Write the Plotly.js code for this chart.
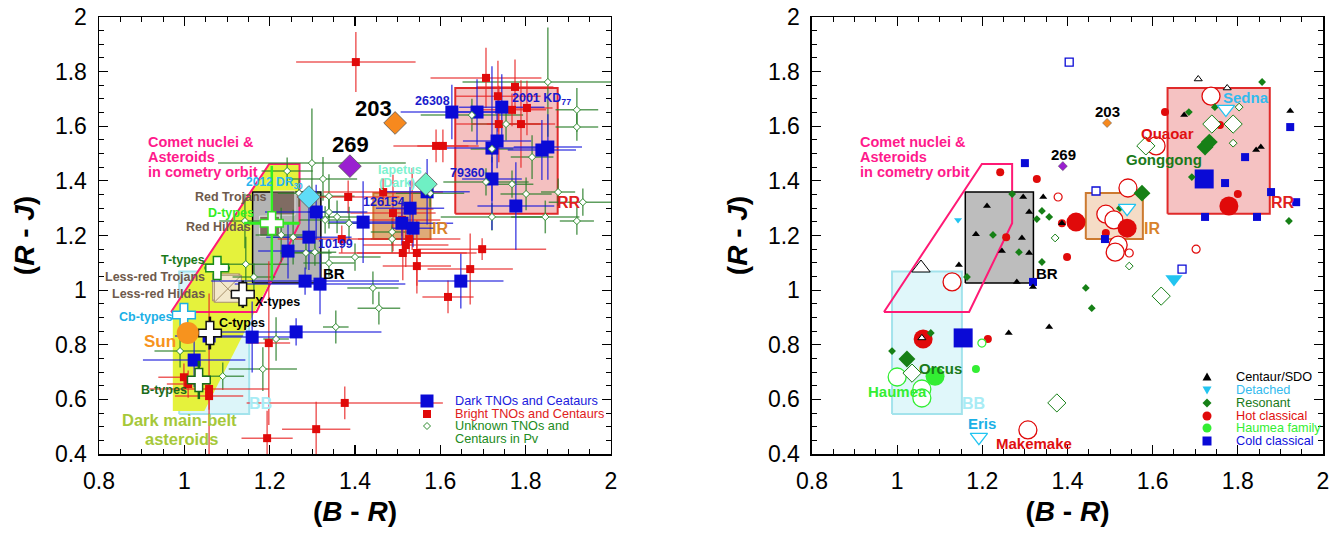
<!DOCTYPE html>
<html><head><meta charset="utf-8">
<script src="https://cdn.plot.ly/plotly-3.0.1.min.js"></script>
<style>html,body{margin:0;padding:0;background:#fff}#chart{width:1341px;height:534px}</style>
</head><body><div id="chart"></div>
<script>
// ---------------- DATA : left panel ----------------
// Dark TNOs and Centaurs (B-R, R-J, errors)
const darkX  = [1.627,1.686,1.744,1.733,1.721,1.838,1.852,1.721,1.777,1.569,1.529,1.510,1.536,1.419,1.309,1.292,1.243,1.283,1.318,1.058,1.159,1.262,1.023,1.648];
const darkY  = [1.652,1.652,1.670,1.546,1.520,1.513,1.524,1.407,1.308,1.360,1.300,1.245,1.227,1.249,1.286,1.194,1.143,1.033,1.022,0.832,0.828,0.847,0.744,1.033];
const darkEX = [0.12,0.06,0.10,0.08,0.12,0.08,0.08,0.07,0.09,0.10,0.08,0.12,0.05,0.08,0.12,0.10,0.07,0.22,0.20,0.08,0.10,0.20,0.12,0.10];
const darkEY = [0.10,0.12,0.12,0.10,0.30,0.11,0.12,0.08,0.16,0.12,0.10,0.08,0.07,0.15,0.10,0.12,0.10,0.05,0.11,0.05,0.13,0.05,0.10,0.10];
// Bright TNOs and Centaurs
const brightX  = [1.402,1.707,1.775,1.735,1.768,1.803,1.737,1.789,1.590,1.606,1.466,1.384,1.489,1.534,1.510,1.527,1.519,1.512,1.545,1.545,1.698,1.369,1.670,1.618,1.376,1.309,1.198,0.999,1.009,1.058,1.058,1.194];
const brightY  = [1.835,1.777,1.744,1.710,1.660,1.667,1.608,1.608,1.528,1.528,1.359,1.341,1.282,1.297,1.257,1.187,1.165,1.136,1.136,1.088,1.150,1.187,1.077,0.975,0.587,0.491,0.806,0.681,0.656,0.638,0.612,0.458];
const brightEX = [0.14,0.13,0.09,0.10,0.08,0.06,0.10,0.08,0.10,0.06,0.14,0.12,0.10,0.05,0.09,0.12,0.10,0.15,0.14,0.08,0.15,0.15,0.10,0.06,0.23,0.08,0.05,0.06,0.05,0.14,0.08,0.06];
const brightEY = [0.11,0.11,0.10,0.13,0.06,0.10,0.14,0.16,0.06,0.06,0.05,0.06,0.14,0.15,0.06,0.05,0.08,0.10,0.12,0.10,0.04,0.05,0.13,0.06,0.06,0.10,0.30,0.05,0.05,0.35,0.05,0.10];
// Unknown TNOs and Centaurs in Pv
const unkX  = [1.299,1.241,1.325,1.269,1.339,1.339,1.330,1.358,1.142,1.227,1.255,1.285,1.306,1.144,1.339,1.386,1.400,1.487,1.487,1.576,1.674,1.754,1.721,1.852,1.920,1.920,1.815,1.707,1.768,1.801,1.876,1.934,1.721,1.846,1.920,1.442,1.456,1.355,1.215,1.184,1.090,0.990,1.163];
const unkY  = [1.465,1.436,1.407,1.355,1.344,1.286,1.257,1.268,1.253,1.202,1.194,1.136,1.139,1.095,1.099,1.245,1.121,1.213,1.187,1.355,1.641,1.608,1.517,1.762,1.660,1.597,1.487,1.396,1.388,1.352,1.359,1.322,1.268,1.268,1.253,1.008,0.934,0.865,0.821,0.711,0.685,0.777,1.048];
const unkEX = [0.22,0.06,0.08,0.05,0.06,0.05,0.06,0.06,0.06,0.06,0.05,0.06,0.05,0.10,0.06,0.05,0.06,0.05,0.05,0.08,0.12,0.08,0.05,0.20,0.05,0.05,0.05,0.10,0.05,0.06,0.04,0.08,0.12,0.08,0.04,0.06,0.05,0.03,0.03,0.08,0.05,0.06,0.05];
const unkEY = [0.20,0.05,0.08,0.05,0.08,0.06,0.05,0.06,0.10,0.10,0.10,0.06,0.05,0.10,0.05,0.06,0.05,0.05,0.05,0.05,0.06,0.06,0.05,0.20,0.08,0.05,0.08,0.05,0.05,0.06,0.05,0.05,0.05,0.06,0.05,0.06,0.06,0.06,0.08,0.08,0.05,0.06,0.05];
// Taxonomic types of main-belt asteroids
const typeNames = ['D-types','T-types','X-types','Cb-types','C-types','B-types'];
const typeX  = [1.205,1.077,1.137,0.999,1.060,1.034];
const typeY  = [1.245,1.081,0.985,0.909,0.843,0.671];
const typeEX = [0.065,0.03,0.0,0.0,0.0,0.0];
const typeEY = [0.21,0.03,0.05,0.02,0.06,0.07];
// Trojans and Hildas
const redGroupNames = ['Red Trojans','Red Hildas'];
const redGroupX = [1.231,1.200];
const redGroupY = [1.319,1.234];
const lessRedNames = ['Less-red Trojans','Less-red Hildas'];
const lessRedX = [1.098,1.102];
const lessRedY = [1.010,1.005];
// Sun and individual objects
const sunX = [1.008], sunY = [0.843];
const objNames = ['203','269','2012 DR30','Iapetus (Dark)'];
const objX = [1.494,1.388,1.292,1.566];
const objY = [1.612,1.454,1.341,1.388];
// Colour regions (B-R min, B-R max, R-J min, R-J max)
const rrBox = [1.635,1.875,1.280,1.740];
const irBox = [1.443,1.577,1.187,1.356];
const brBox = [1.160,1.320,1.026,1.359];
const bbBox = [0.988,1.152,0.546,1.068];
const cometX = [0.969,1.169,1.270,1.270,1.199,0.969];
const cometY = [0.920,0.920,1.245,1.462,1.462,0.920];
const darkMBX = [0.973,1.047,1.270,1.270,1.199,0.973,0.973];
const darkMBY = [0.557,0.557,1.245,1.462,1.462,0.929,0.557];

// ---------------- DATA : right panel ----------------
const centX = [1.296,1.211,1.343,1.310,1.185,1.293,1.246,1.310,1.145,1.281,1.319,1.262,1.357,1.387,1.674,1.843,1.854,1.923];
const centY = [1.341,1.308,1.341,1.286,1.205,1.191,1.143,1.136,1.092,1.030,1.011,0.843,0.865,1.245,1.641,1.513,1.524,1.656];
const centOpenX = [1.707,1.775,1.058], centOpenY = [1.773,1.740,0.825];
const centOpenBigX = [1.056], centOpenBigY = [1.081];
const detX = [1.143], detY = [1.257];
const detBigX = [1.650], detBigY = [1.041];
const detOpenBigX = [1.772,1.540,1.192], detOpenBigY = [1.663,1.300,0.462];
const resX = [1.270,1.225,1.286,1.340,1.357,1.328,1.340,1.164,1.079,0.988,1.443,1.457,1.857,1.685,1.746,1.692,1.920,1.523];
const resY = [1.352,1.202,1.139,1.290,1.268,1.260,1.103,1.048,0.843,0.777,1.008,0.934,1.762,1.652,1.670,1.414,1.253,1.300];
const resBigX = [1.723,1.733,1.575,1.023], resBigY = [1.524,1.542,1.355,0.748];
const resOpenX = [1.803,1.789,1.371,1.545], resOpenY = [1.670,1.538,1.191,1.088];
const resOpenBigX = [1.739,1.789,1.584,1.620,1.375,1.035], resOpenBigY = [1.608,1.608,1.528,0.978,0.587,0.696];
const hotX = [1.242,1.256,1.213,1.328,1.387,1.399,1.629,1.758,1.800,1.490];
const hotY = [1.432,1.194,0.821,1.407,1.245,1.121,1.652,1.605,1.352,1.209];
const hotBigX = [1.420,1.540,1.779,1.061], hotBigY = [1.249,1.227,1.308,0.821];
const hotOpenX = [1.378,1.702,1.545], hotOpenY = [1.341,1.150,1.136];
const hotOpenBigX = [1.129,1.737,1.608,1.542,1.490,1.509,1.519,1.512,1.307];
const hotOpenBigY = [1.030,1.710,1.528,1.374,1.278,1.257,1.165,1.139,0.488];
const haumX = [1.185], haumY = [0.711];
const haumBigX = [1.089], haumBigY = [0.685];
const haumOpenX = [1.199], haumOpenY = [0.806];
const haumOpenBigX = [1.000,1.058,1.058], haumOpenBigY = [0.682,0.638,0.605];
const coldX = [1.300,1.319,1.488,1.923,1.817,1.770,1.878,1.937,1.723,1.845];
const coldY = [1.465,1.030,1.187,1.597,1.487,1.392,1.359,1.322,1.268,1.268];
const coldBigX = [1.721,1.155], coldBigY = [1.407,0.825];
const coldOpenX = [1.404,1.467,1.669], coldOpenY = [1.835,1.363,1.077];
const specX = [1.493,1.389], specY = [1.612,1.454];

// ---------------- BUILD ----------------
const FONT = '"Liberation Sans", Arial, Helvetica, sans-serif';
const traces = [];
function ax(t, p){ t.xaxis = p ? 'x2':'x'; t.yaxis = p ? 'y2':'y'; t.hoverinfo='skip'; t.showlegend=false; traces.push(t); }
function boxXY(b){ return {x:[b[0],b[1],b[1],b[0],b[0]], y:[b[2],b[2],b[3],b[3],b[2]]}; }
function region(b, fill, line, w, p){ const xy = boxXY(b); ax({type:'scatter', mode:'lines', x:xy.x, y:xy.y, fill:'toself', fillcolor:fill, line:{color:line, width:w}}, p); }
function poly(xs, ys, fill, line, w, p){ ax({type:'scatter', mode:'lines', x:xs, y:ys, fill: fill ? 'toself':'none', fillcolor: fill || undefined, line:{color:line, width:w}}, p); }
function pts(xs, ys, sym, size, color, lineColor, lw, p){ ax({type:'scatter', mode:'markers', x:xs, y:ys, marker:{symbol:sym, size:size, color:color, line:{color:lineColor, width:lw}}}, p); }
function errs(xs, ys, ex, ey, color, p){ ax({type:'scatter', mode:'markers', x:xs, y:ys, marker:{size:1, color:'rgba(0,0,0,0)'},
  error_x:{type:'data', array:ex, color:color, thickness:1.5, width:0}, error_y:{type:'data', array:ey, color:color, thickness:1.5, width:0}}, p); }

// left panel
region(bbBox, '#dcf5f9', '#a3e3ec', 2, false);
poly(darkMBX, darkMBY, '#e5f23c', 'rgba(0,0,0,0)', 0, false);
region(brBox, '#b4b4b4', '#000', 1.5, false);
region(irBox, '#dfab78', '#cc7a30', 2, false);
region(rrBox, '#f4c0c0', '#e02a2a', 2, false);
poly(cometX, cometY, null, '#ff1a75', 2, false);
ax({type:'scatter', mode:'markers', x:redGroupX, y:redGroupY, marker:{symbol:'square', size:[24,20], color:'#6b4f42'}}, false);
pts(lessRedX, lessRedY, 'square-x', 27, '#f3e8cb', '#a8916c', 1, false);
errs(unkX, unkY, unkEX, unkEY, 'rgba(40,125,40,0.75)', false);
errs(brightX, brightY, brightEX, brightEY, 'rgba(232,40,40,0.75)', false);
errs(darkX, darkY, darkEX, darkEY, 'rgba(25,25,220,0.75)', false);
pts(brightX, brightY, 'square', 8, '#e00a0a', '#e00a0a', 0, false);
pts(darkX, darkY, 'square', 13, '#0a0ad6', '#0a0ad6', 0, false);
pts(unkX, unkY, 'diamond', 5.5, '#fff', '#2e8b2e', 1, false);
const typeCol = ['#33dd22','#1a8c1a','#111111','#1ab0e6','#111111','#1a6b1a'];
const typeErrCol = ['#33ee22','#1a8c1a','#111111','#1ab0e6','#111111','#1a6b1a'];
for (let i=0;i<typeNames.length;i++){
  ax({type:'scatter', mode:'markers', x:[typeX[i]], y:[typeY[i]], name:typeNames[i],
      marker:{symbol:'cross', size:19, color:'#fff', line:{color:typeCol[i], width:1.5}},
      error_x:{type:'data', array:[typeEX[i]], color:typeErrCol[i], thickness:3, width:0},
      error_y:{type:'data', array:[typeEY[i]], color:typeErrCol[i], thickness:2.5, width:0}}, false);
}
pts(sunX, sunY, 'circle', 22, '#f7931e', '#f7931e', 0, false);
ax({type:'scatter', mode:'markers', x:objX, y:objY, marker:{symbol:'diamond', size:17.5, color:['#f7891e','#9a1fd0','#5fdcf7','#6ff0c4'], line:{color:'#555', width:0.8}}}, false);

// right panel
region(bbBox, '#e0f7fa', '#a3e3ec', 2, true);
region(brBox, '#bdbdbd', '#000', 1.5, true);
region(irBox, '#f5dcc6', '#cc7a30', 2, true);
region(rrBox, '#f5c2c2', '#e02a2a', 2, true);
poly(cometX, cometY, null, '#ff1a75', 2, true);
const RED='#e00a0a', GRN='#168016', LGR='#33ee33', BLU='#0a0ad6', CYA='#22c4f0';
pts(hotOpenBigX, hotOpenBigY, 'circle', 18, '#fff', RED, 1.3, true);
pts(hotBigX, hotBigY, 'circle', 19, RED, RED, 0, true);
pts(hotX, hotY, 'circle', 8, RED, RED, 0, true);
pts(hotOpenX, hotOpenY, 'circle', 8, '#fff', RED, 1.2, true);
pts(haumOpenBigX, haumOpenBigY, 'circle', 18, '#fff', LGR, 1.3, true);
pts(haumBigX, haumBigY, 'circle', 19, LGR, LGR, 0, true);
pts(haumX, haumY, 'circle', 8, LGR, LGR, 0, true);
pts(haumOpenX, haumOpenY, 'circle', 8, '#fff', LGR, 1.2, true);
pts(coldBigX, coldBigY, 'square', 19, BLU, BLU, 0, true);
pts(coldX, coldY, 'square', 8, BLU, BLU, 0, true);
pts(coldOpenX, coldOpenY, 'square', 8, '#fff', BLU, 1.3, true);
pts(resOpenBigX, resOpenBigY, 'diamond', 14, '#fff', GRN, 1, true);
pts(resBigX, resBigY, 'diamond', 13, GRN, GRN, 0, true);
pts(resX, resY, 'diamond', 6, GRN, GRN, 0, true);
pts(resOpenX, resOpenY, 'diamond', 6, '#fff', GRN, 1, true);
pts(detOpenBigX, detOpenBigY, 'triangle-down', 15, '#fff', CYA, 1.3, true);
pts(detBigX, detBigY, 'triangle-down', 15, CYA, CYA, 0, true);
pts(detX, detY, 'triangle-down', 7, CYA, CYA, 0, true);
pts(centOpenBigX, centOpenBigY, 'triangle-up', 16, '#fff', '#000', 1, true);
pts(centOpenX, centOpenY, 'triangle-up', 7, '#fff', '#000', 1, true);
pts(centX, centY, 'triangle-up', 7, '#000', '#000', 0, true);
ax({type:'scatter', mode:'markers', x:specX, y:specY, marker:{symbol:'diamond', size:7, color:['#f7891e','#9a1fd0'], line:{color:'#555', width:0.5}}}, true);

// ---------------- ANNOTATIONS ----------------
const PX = px => (px-99)/1224, PY = py => (454-py)/437;
function P(px, py, text, size, color, anchor, extra){
  return Object.assign({xref:'paper', yref:'paper', x:PX(px), y:PY(py), text:text, showarrow:false,
    xanchor:anchor||'center', yanchor:'middle', font:{family:FONT, size:size, color:color}}, extra||{});
}
const B = s => '<b>'+s+'</b>';
const PINK='#ff1a8c', BROWN='#6e5a4c';
const ann = [
  // left
  P(146,142,B('Comet nuclei &'),14.5,PINK,'left'), P(146,157,B('Asteroids'),14.5,PINK,'left'), P(146,172,B('in cometry orbit'),14.5,PINK,'left'),
  P(373,108,B('203'),22,'#000'), P(350,145,B('269'),22,'#000'),
  P(432,101,B('26308'),12.5,'#1a1acc'), P(541,99,B('2001 KD<sub>77</sub>'),12.5,'#1a1acc'),
  P(467,173,B('79360'),12.5,'#1a1acc'), P(384,202,B('126154'),12.5,'#1a1acc'), P(335,244,B('10199'),12.5,'#1a1acc'),
  P(400,170,B('Iapetus'),12.5,'#7ef2cf'), P(397,183,B('(Dark)'),12.5,'#7ef2cf'),
  P(569,203,B('RR'),16,'#e02020'), P(440,228,B('IR'),16,'#d9822b'), P(334,273,B('BR'),15,'#000'), P(260,403,B('BB'),16,'#a8ecf5'),
  P(274,183,B('2012 DR<sub>30</sub>'),12,'#29b6f0'),
  P(231,197,B('Red Trojans'),12.5,BROWN), P(231,213,B('D-types'),12.5,'#33ee22'), P(218,227,B('Red Hildas'),12.5,BROWN),
  P(183,260,B('T-types'),12.5,'#1a7a1a'), P(155,277,B('Less-red Trojans'),12.5,BROWN), P(158,294,B('Less-red Hildas'),12.5,BROWN),
  P(277,302,B('X-types'),12.5,'#000'), P(146,317,B('Cb-types'),12.5,'#1ab0e6'), P(242,323,B('C-types'),12.5,'#000'),
  P(160,341,B('Sun'),17,'#f7931e'), P(164,390,B('B-types'),12.5,'#1a6b1a'),
  P(179,420,B('Dark main-belt'),16.5,'#a5c83a'), P(181,439,B('asteroids'),16.5,'#a5c83a'),
  // left legend text
  P(453,401,'Dark TNOs and Ceataurs',12.7,'#2020dd','left'), P(453,414,'Bright TNOs and Centaurs',12.7,'#e02020','left'),
  P(453,426,'Unknown TNOs and',12.7,'#228b22','left'), P(453,439,'Centaurs in Pv',12.7,'#228b22','left'),
  // right
  P(858,142,B('Comet nuclei &'),14.5,PINK,'left'), P(858,157,B('Asteroids'),14.5,PINK,'left'), P(858,172,B('in cometry orbit'),14.5,PINK,'left'),
  P(1107,112,B('203'),15,'#000'), P(1063,154,B('269'),15,'#000'),
  P(1246,98,B('Sedna'),15,'#33bbee'), P(1167,133,B('Quaoar'),15,'#e01010'), P(1164,160,B('Gonggong'),15,'#1a7a1a'),
  P(1283,202,B('RR'),16,'#e02020'), P(1152,228,B('IR'),16,'#d9822b'), P(1047,273,B('BR'),15,'#000'), P(973,403,B('BB'),16,'#a8ecf5'),
  P(940,368,B('Orcus'),15,'#1a7a1a'), P(897,391,B('Haumea'),15,'#33ee33'), P(982,423,B('Eris'),15,'#1ab0e6'), P(1034,443,B('Makemake'),15,'#e01010'),
  // right legend text
  P(1234,377,'Centaur/SDO',12.7,'#000','left'), P(1234,390,'Detached',12.7,'#33bbee','left'),
  P(1234,403,'Resonant',12.7,'#1a7a1a','left'), P(1234,416,'Hot classical',12.7,'#e01010','left'),
  P(1234,428,'Haumea family',12.7,'#33ee33','left'), P(1234,441,'Cold classical',12.7,'#1010dd','left')
];

// legend keys (pixel-sized shapes anchored in paper space)
function key(px, py, type, half, fill, line, path){
  const s = {type:type, xref:'paper', yref:'paper', xsizemode:'pixel', ysizemode:'pixel', xanchor:PX(px), yanchor:PY(py),
    fillcolor:fill, line:{color:line||fill, width: line ? 1 : 0}, layer:'above'};
  if (path) s.path = path; else { s.x0=-half; s.x1=half; s.y0=-half; s.y1=half; }
  return s;
}
const shapes = [
  key(427,401,'rect',6.5,'#0a0ad6'),
  key(427,414,'rect',4,'#e00a0a'),
  key(427,426,'path',0,'#fff','#2e8b2e','M0,3.5 L3.5,0 L0,-3.5 L-3.5,0 Z'),
  key(1207,377,'path',0,'#000',null,'M-4.5,-3.5 L4.5,-3.5 L0,4.5 Z'),
  key(1207,390,'path',0,'#22c4f0',null,'M-4.5,3.5 L4.5,3.5 L0,-4.5 Z'),
  key(1207,403,'path',0,'#168016',null,'M0,4.5 L4.5,0 L0,-4.5 L-4.5,0 Z'),
  key(1207,416,'circle',4.5,'#e00a0a'),
  key(1207,428,'circle',4.5,'#33ee33'),
  key(1207,441,'rect',4.5,'#0a0ad6')
];

function axisCfg(domain, anchor, range, title, standoff){
  return {domain:domain, anchor:anchor, range:range, dtick:0.2, tick0:0, ticks:'inside', ticklen:9, tickwidth:1.2, tickcolor:'#000',
    minor:{dtick:0.05, ticks:'inside', ticklen:5, tickwidth:1, tickcolor:'#000', showgrid:false},
    showline:true, linecolor:'#000', linewidth:1.5, mirror:'ticks', showgrid:false, zeroline:false,
    tickfont:{family:FONT, size:23, color:'#000'}, ticklabelstandoff:6, fixedrange:true,
    title:{text:title, font:{family:FONT, size:28, color:'#000'}, standoff:standoff}};
}
const XT = '<b>(<i>B</i> - <i>R</i>)</b>', YT = '<b>(<i>R</i> - <i>J</i>)</b>';
const layout = {
  width:1341, height:534, margin:{l:99, r:18, t:17, b:80}, paper_bgcolor:'#fff', plot_bgcolor:'rgba(0,0,0,0)',
  showlegend:false, font:{family:FONT, color:'#000'},
  xaxis: axisCfg([0,0.4183],'y',[0.8,2],XT,8), yaxis: axisCfg([0,1],'x',[0.4,2],YT,12),
  xaxis2: axisCfg([0.5825,1],'y2',[0.8,2],XT,8), yaxis2: axisCfg([0,1],'x2',[0.4,2],YT,12),
  annotations: ann, shapes: shapes
};
Plotly.newPlot('chart', traces, layout, {staticPlot:true, displayModeBar:false});
</script></body></html>
